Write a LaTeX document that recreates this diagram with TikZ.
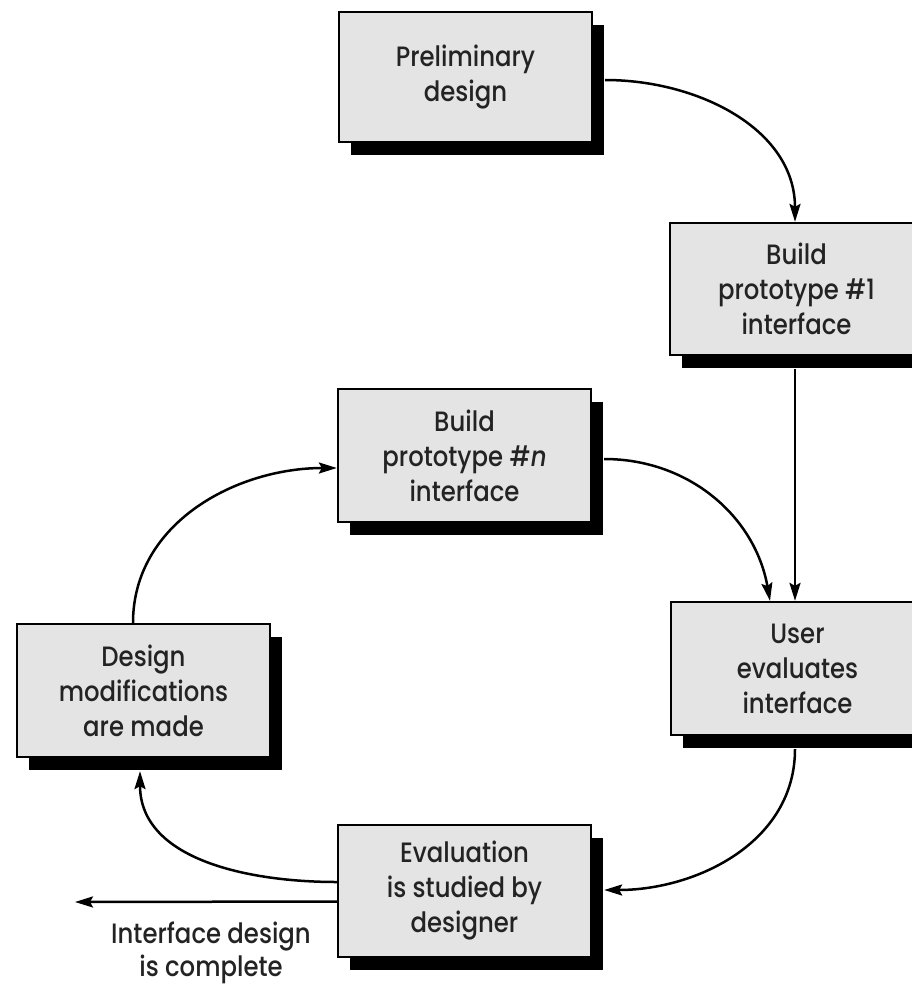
\documentclass[tikz,border=0pt]{standalone}
\usepackage{fontspec}
\setmainfont{Poppins}[UprightFont={Poppins Medium}, ItalicFont={Poppins Medium Italic}, FakeStretch=0.87]
\usetikzlibrary{arrows.meta,shadows}
\definecolor{boxgray}{RGB}{228,228,228}
\definecolor{txtgray}{RGB}{35,35,35}
\begin{document}
\begin{tikzpicture}[x=1pt,y=-1pt,
  box/.style={draw=black, line width=2.3pt, fill=boxgray, align=center, inner sep=0pt,
    minimum width=253pt, minimum height=132pt,
    text=txtgray, font=\fontsize{28}{35}\selectfont,
    drop shadow={shadow xshift=12pt, shadow yshift=-13pt, fill=black, opacity=1}},
  conn/.style={line width=2.5pt, -{Stealth[length=18pt,width=11pt,inset=3pt]}},
  lbl/.style={align=center, text=txtgray, font=\fontsize{28}{33}\selectfont}]
\clip (0,0) rectangle (912,985);
\fill[white] (0,0) rectangle (912,985);
\node[box, minimum height=130pt] (prelim) at (465.5,77) {Preliminary\\design};
\node[box] (build1) at (796.5,289) {Build\\prototype \#1\\interface};
\node[box, minimum height=133pt] (buildn) at (464.5,455.5) {Build\\prototype \#\textit{n}\\interface};
\node[box, minimum height=133pt] (user) at (797.5,668.5) {User\\evaluates\\interface};
\node[box, minimum height=133pt] (design) at (143.5,690.5) {Design\\modifications\\are made};
\node[box] (eval) at (464.5,891) {Evaluation\\is studied by\\designer};
\coordinate (exit) at (75,902);
\node[lbl] (done) at (211,953) {Interface design\\is complete};

\draw[conn] ([xshift=12pt,yshift=-3pt]prelim.east) to[out=0,in=90] ([xshift=-1.5pt]build1.north);
\draw[conn] ([xshift=-1.5pt,yshift=-13pt]build1.south) -- ([xshift=-2.5pt]user.north);
\draw[conn] ([xshift=12pt,yshift=-3.5pt]buildn.east) to[out=0,in=100] ([xshift=-27.5pt]user.north);
\draw[conn] ([xshift=-2.5pt,yshift=-13pt]user.south) to[out=-90,in=0] ([xshift=12pt,yshift=1pt]eval.east);
\draw[conn] ([yshift=9pt]eval.west) to[out=180,in=-90] ([xshift=-3.5pt,yshift=-13pt]design.south);
\draw[conn] ([yshift=-10.5pt]eval.west) -- (exit);
\draw[conn] ([xshift=-10.5pt]design.north) to[out=90,in=180] ([yshift=-12.5pt]buildn.west);
\end{tikzpicture}
\end{document}
